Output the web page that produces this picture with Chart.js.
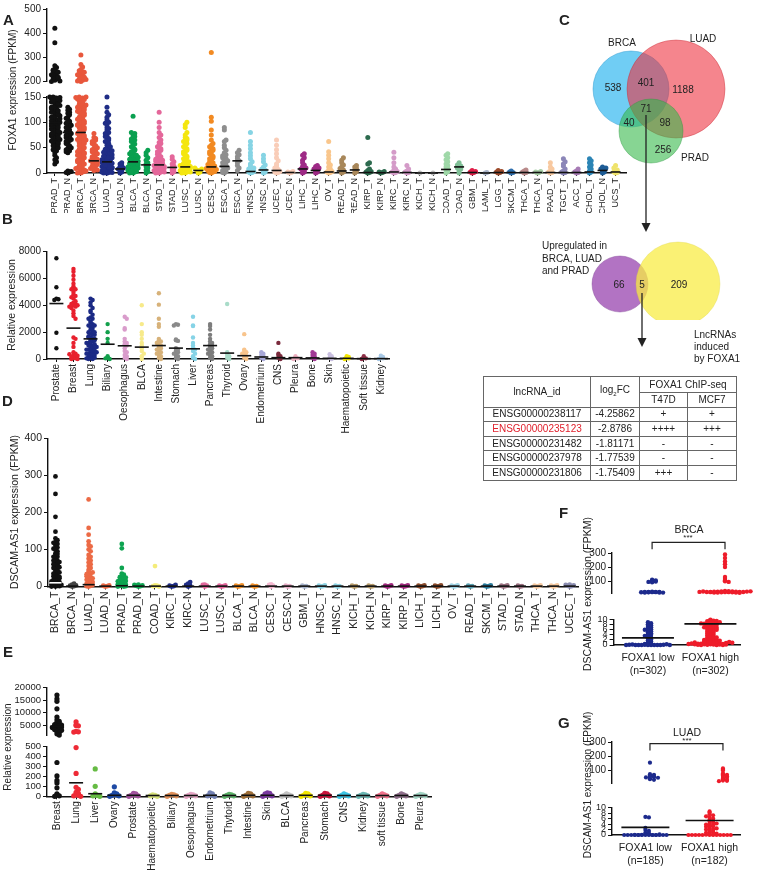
<!DOCTYPE html>
<html>
<head>
<meta charset="utf-8">
<script src="https://cdn.jsdelivr.net/npm/chart.js@4.4.0/dist/chart.umd.min.js"></script>
<style>
html,body{margin:0;padding:0;overflow:hidden}
body{width:761px;height:876px;position:relative;background:#fff;font-family:"Liberation Sans",Arial,sans-serif;color:#222}
.box{position:absolute}
.t{position:absolute;white-space:nowrap;font-size:10px;transform:translate(-50%,-50%)}
.tl{position:absolute;white-space:nowrap;font-size:10px;transform:translate(0,-50%)}
.yt{position:absolute;white-space:nowrap;font-size:10px;transform:translate(-50%,-50%) rotate(-90deg)}
.let{position:absolute;font-weight:bold;font-size:15px;transform:translate(0,-50%)}
#tbl{position:absolute;left:483px;top:376px;border-collapse:collapse;font-size:10px;color:#222}
#tbl td{border:1px solid #666;padding:0;text-align:center;line-height:12px;height:13.6px}
#tbl tr.h1 td{height:15px}
</style>
</head>
<body>
<script>
Chart.defaults.font.family = '"Liberation Sans", Arial, sans-serif';
Chart.defaults.color = '#222';

// ---- panel A : FOXA1 in TCGA (FPKM)
const aLabels = ['PRAD_T','PRAD_N','BRCA_T','BRCA_N','LUAD_T','LUAD_N','BLCA_T','BLCA_N','STAD_T','STAD_N','LUSC_T','LUSC_N','CESC_T','ESCA_T','ESCA_N','HNSC_T','HNSC_N','UCEC_T','UCEC_N','LIHC_T','LIHC_N','OV_T','READ_T','READ_N','KIRP_T','KIRP_N','KIRC_T','KIRC_N','KICH_T','KICH_N','COAD_T','COAD_N','GBM_T','LAML_T','LGG_T','SKCM_T','THCA_T','THCA_N','PAAD_T','TGCT_T','ACC_T','CHOL_T','CHOL_N','UCS_T'];
const aValues = [
  [18,22,26,30,35,40,44,48,52,55,58,62,65,68,72,75,78,82,85,88,92,95,98,102,105,108,112,115,118,122,125,128,132,135,138,142,145,148,150,60,70,80,90,100,110,120,130,140,95,105,115,125,135,145,75,85,46,50,54,57,60,63,66,70,73,77,80,83,87,90,93,97,100,103,107,110,113,117,120,123,127,130,133,137,140,143,147,149,150,148,146,144,205,210,215,220,225,230,235,240,245,250,258,265,212,218,228,238,248,200,202,360,420],
  [0,2,4,40,44,48,52,56,60,64,68,72,76,80,84,88,92,96,100,105,110,118,124,130,70,85,1,3,42,46,50,54,58,62,66,74,78,82,90,94,98,102,108,115,120,126],
  [0,2,5,8,12,16,20,24,28,32,36,40,44,48,52,56,60,64,68,72,76,80,84,88,92,96,100,104,108,112,116,120,124,128,132,136,140,144,148,150,30,45,60,75,90,105,120,135,10,20,40,55,70,85,100,115,130,145,1,3,6,10,14,18,22,26,30,34,38,42,46,50,54,58,62,66,70,74,78,82,86,90,94,98,102,106,110,114,118,122,126,130,134,138,142,146,150,149,147,0,4,9,25,35,65,95,125,200,205,210,215,220,225,230,235,240,245,202,208,218,228,238,250,260,270,310],
  [5,8,10,12,15,18,20,22,25,28,30,33,36,40,44,48,52,56,60,65,70,78,6,9,14,17,21,24,27,32,38,42,46,50,54,58,62,68],
  [0,1,2,3,5,7,8,10,12,14,15,17,18,20,22,24,25,27,28,30,32,35,38,40,42,45,48,50,55,60,65,70,75,80,85,90,95,100,105,110,115,120,130,150,5,10,15,20,25,30,35,0,1,2,4,6,9,11,13,16,19,21,23,26,29,31,33,36,39,41,44,47,52,58,62,68,72,78,88,98,0,2,4,6,8,12,16],
  [0,2,4,6,8,10,12,15,18,20],
  [0,2,4,6,8,10,12,15,18,20,22,25,28,30,33,36,40,45,50,55,60,65,70,72,75,78,80,112,5,10,15,20,25,35,1,3,5,7,9,11,14,17,19,23,27,31,35,38,42,47,52,57,62,67,0,4,8,12],
  [0,3,6,10,13,16,18,20,25,30,35,40,45],
  [0,2,4,6,8,10,12,14,16,18,20,22,25,28,30,35,40,45,50,55,60,70,80,90,100,120,5,10,15,25,1,3,5,7,9,11,13,15,17,19,23,27,32,37,42,48,52,58,65,75,0,2,4],
  [0,3,6,9,11,14,18,22,27,32],
  [0,2,4,6,8,10,12,14,16,18,20,25,30,35,40,45,50,55,60,65,70,75,80,90,95,100,5,10,15,1,3,5,7,9,11,13,15,17,19,22,28,33,38,42,48,52,58,62,68,0,2],
  [0,2,4,5,6,8,10],
  [0,2,4,6,8,10,12,15,18,20,25,30,35,40,45,50,55,58,65,75,85,102,110,320,1,3,5,7,9,11,14,17,22,28,33,38,42,48,52],
  [0,3,6,9,12,15,18,21,25,28,32,36,40,45,50,55,62,65,85,90,1,5,10,14,20,24,30,34],
  [5,10,15,20,24,28,32,36,40,45],
  [0,1,2,3,4,6,8,10,14,18,22,28,34,40,48,55,62,80],
  [0,2,4,6,8,12,16,22,28,35],
  [0,1,2,3,5,7,10,14,18,24,30,38,46,55,65],
  [0,1,2,3],
  [0,2,4,6,8,10,13,16,20,25,30,35,38],
  [0,2,4,6,8,10,13,15],
  [0,1,2,3,5,8,12,16,20,28,35,42,62],
  [0,2,4,6,9,12,16,20,25,30],
  [0,3,6,9,12,15],
  [0,1,2,3,5,8,18,20,70],
  [0,1,2,3],
  [0,1,2,3,5,8,12,20,30,41],
  [0,1,2,4,8,15],
  [0],
  [0],
  [0,3,6,9,12,15,18,22,26,30,35,38],
  [0,4,8,10,12,14,16,20],
  [0,1,2,3,5],
  [0,1],
  [0,1,2,3,5],
  [0,1,2,4],
  [0,1,2,4,6],
  [0,1,2,3],
  [0,1,2,4,8,12,20],
  [0,1,2,4,8,14,18,22,28],
  [0,1,2,4,8],
  [0,2,4,8,12,16,20,24,28],
  [0,2,4,6,8,10,12],
  [0,1,2,4,6,10,15]
];
const aMedians = [100,80,80,24,22,8,22,16,16,11,12,5,12,13,24,3,6,5,1,8,5,2,4,6,1,0.5,2,1,0,0,7,12,1,0,1,1,1,1,1,1,1,2,5,2];
const aColors = ['#111','#111','#e8573c','#e8573c','#1f2d86','#1f2d86','#0aa050','#0aa050','#e4679a','#e4679a','#f4e60f','#f4e60f','#f28a22','#8e8e8e','#8e8e8e','#86d4e4','#86d4e4','#f9cdb8','#f9cdb8','#9e2a86','#9e2a86','#f9c68c','#a8875a','#a8875a','#2d6b4f','#2d6b4f','#d49bc8','#d49bc8','#bbbbbb','#bbbbbb','#9fd8a8','#7fbf96','#e01e48','#aab4c8','#9c4a2a','#2f6fae','#b98a8a','#a7cfa6','#f8c9a0','#8b86b8','#a77bb5','#2b84b5','#1d5c96','#efe36c'];

// ---- panel B : FOXA1 in CCLE lines
const bLabels = ['Prostate','Breast','Lung','Biliary','Oesophagus','BLCA','Intestine','Stomach','Liver','Pancreas','Thyroid','Ovary','Endometrium','CNS','Pleura','Bone','Skin','Haematopoietic','Soft tissue','Kidney'];
const bValues = [
  [7500,5350,4500,4450,4400,1950,800],
  [6700,6500,6200,5900,5600,5400,5300,5200,5000,4800,4700,4500,4300,4200,4100,4000,3900,3800,3600,3400,3200,3000,1600,1500,1200,900,500,400,300,200,100,50,0,0,150,250,350,4000,4100,3900,5200,4600],
  [4500,4400,4200,4000,3800,3600,3500,3300,3100,3000,2800,2700,2600,2500,2400,2300,2200,2100,2000,1900,1800,1700,1600,1500,1400,1300,1200,1100,1000,900,800,700,600,500,400,300,200,100,0,1800,1600,1400,1200,1000,800,600,400,200,0,1500,1100,700,300,2000,2500,3000,900,500,100,50],
  [2600,2000,1500,1200,200,100,0,50],
  [3150,3000,2300,2200,1500,1300,1200,1100,1000,800,600,500,300,200,100,0],
  [4000,2600,2000,1800,1500,1200,1000,800,600,400,200,0],
  [4900,4050,3000,2600,2400,1500,1400,1300,1200,1100,1000,900,800,700,600,500,400,300,200,100,0],
  [2600,2550,2500,1450,1400,1350,800,700,600,500,400,300,200,100,0],
  [3150,2500,2450,1600,1200,1000,800,700,600,400,200,100,0],
  [2600,2450,2200,1800,1500,1300,1200,1100,1000,900,800,700,600,500,400,300,200,100,0],
  [4100,500,300,200,100,0],
  [1850,700,600,500,400,300,200,100,0],
  [500,400,300,200,100,0],
  [1200,400,300,200,100,0],
  [200,100,50,0],
  [500,400,300,200,100,0],
  [350,200,100,0],
  [200,150,100,50,0],
  [200,100,50,0],
  [250,150,100,50,0]
];
const bMedians = [4130,2300,1500,1100,985,885,1000,810,760,1000,440,246,150,100,100,80,50,50,30,30];
const bColors = ['#111','#e8202e','#1b2a85','#13a04c','#d99ccb','#f7ea8a','#d7b27a','#8a8a8a','#86d3e6','#7d7d7d','#a9dcc9','#f8c48c','#a8a8d8','#7a2a3c','#eeb0c0','#a23a96','#c9bfe0','#f3e600','#8e3048','#a9c9e6'];

// ---- panel C : overlaps
const vennSets = ['BRCA','LUAD','PRAD'];
const vennCounts = ['538','401','1188','71','40','98','256'];
const venn2Counts = ['66','5','209'];

// ---- table
const tblIds = ['ENSG00000238117','ENSG00000235123','ENSG00000231482','ENSG00000237978','ENSG00000231806'];
const tblFC = ['-4.25862','-2.8786','-1.81171','-1.77539','-1.75409'];
const tblT47D = ['+','++++','-','-','+++'];
const tblMCF7 = ['+','+++','-','-','-'];

// ---- panel D : DSCAM-AS1 in TCGA (FPKM)
const dLabels = ['BRCA_T','BRCA_N','LUAD_T','LUAD_N','PRAD_T','PRAD_N','COAD_T','KIRC_T','KIRC-N','LUSC_T','LUSC_N','BLCA_T','BLCA_N','CESC_T','CESC-N','GBM_T','HNSC_T','HNSC_N','KICH_T','KICH_N','KIRP_T','KIRP_N','LICH_T','LICH_N','OV_T','READ_T','SKCM_T','STAD_T','STAD_N','THCA_T','THCA_N','UCEC_T'];
const dValues = [
  [297,250,188,148,130,125,120,115,110,105,100,95,90,85,80,75,70,65,60,55,50,45,40,35,30,25,20,15,10,5,0,2,8,12,18,22,28,35,42,50,60,70,80,3,6,1,0,4,14,26,38,52,66,88,102,118],
  [0,1,2,3,5,8],
  [235,158,140,122,112,108,100,95,85,80,75,70,65,60,55,50,45,40,35,30,25,20,15,10,5,0,2,8,12,18,22,28,33,38,1,4],
  [0,1,2,3],
  [115,103,50,35,32,30,28,25,22,20,18,15,12,10,8,5,3,0,2,6,14,24,1,0],
  [0,1,2,3,4,5],
  [55,3,2,1,0],
  [0,1,2,4],
  [0,2,4,8,12],
  [0,2,4,5],
  [0,1,2,3],
  [0,1,2,3],
  [0,1,2],
  [0,2,4,6],
  [0,1,2],
  [0,1,2],
  [0,1,2,3],
  [0,1,2],
  [0,1,2],
  [0,1,2],
  [0,1,2,3],
  [0,1,2,3],
  [0,1,2,3],
  [0,1,2,3],
  [0,1,2,3],
  [0,1,2],
  [0,1,2,3],
  [0,1,2,3],
  [0,1,2],
  [0,1,2,3],
  [0,1,2,3],
  [0,1,2,3,4,5]
];
const dMedians = [10,1,5,1,2,1,1,1,1,1,1,1,1,1,1,1,1,1,1,1,1,1,1,1,1,1,1,1,1,1,1,1];
const dColors = ['#111','#444','#ec6a45','#ec6a45','#0ea451','#0ea451','#f4ec7a','#1f2d86','#1f2d86','#e2679c','#e2679c','#f0902a','#f0902a','#f4b8d0','#e8b0c8','#a8b4cc','#8fd3e3','#8fd3e3','#b59a6a','#b59a6a','#a0287e','#a0287e','#8a4a2a','#8a4a2a','#9fd4e6','#5aa0b0','#2a7a9a','#9a7080','#9a7080','#f6c9a0','#f6c9a0','#8a8cb0'];

// ---- panel E : DSCAM-AS1 in CCLE lines
const eLabels = ['Breast','Lung','Liver','Ovary','Prostate','Haematopoietic','Biliary','Oesophagus','Endometrium','Thytoid','Intestine','Skin','BLCA','Pancreas','Stomach','CNS','Kidney','soft tissue','Bone','Pleura'];
const eValues = [
  [17000,15500,14500,11500,8200,7000,6500,6000,5600,5200,5000,4800,4600,4400,4200,4000,3800,3500,3200,2900,2500,2000,1500,1000,340,205,160,135,85,25,15,5,0],
  [6300,5100,4800,4700,2500,2300,2200,490,230,90,70,40,30,20,10,5,0],
  [275,100,25,15,10,5,0],
  [95,35,25,20,15,10,5,0],
  [30,25,20,15,10,5,0],
  [15,10,5,0],
  [20,15,10,5,0],
  [20,15,10,5,0],
  [35,25,15,10,5,0],
  [20,15,10,5,0],
  [30,25,20,15,10,5,0],
  [35,30,25,20,15,10,5,0],
  [25,20,15,10,5,0],
  [30,25,20,15,10,5,0],
  [30,25,20,15,10,5,0],
  [25,20,15,10,5,0],
  [20,15,10,5,0],
  [25,20,15,10,5,0],
  [25,20,15,10,5,0],
  [20,15,10,5,0]
];
const eMedians = [4500,136,26,10,10,8,8,8,10,8,10,10,8,10,10,8,8,8,8,8];
const eColors = ['#111','#ee2a36','#66bb44','#1e4aa4','#a2529e','#d6e07a','#e0905a','#e6a6c6','#7482b4','#5db36a','#a0703a','#7a3aa0','#c4c4c4','#f2e600','#c8143c','#3cc4e4','#6ab8b4','#f0708a','#90708c','#a4d6c6'];

// ---- panels F and G : DSCAM-AS1 by FOXA1 level
const fLabels = [['FOXA1 low','(n=302)'],['FOXA1 high','(n=302)']];
const fLow = [110,105,100,98,95,92,25,24,23,22,22,21,20,20,19,24,23,21,9,8.6,8.2,7.8,7.5,7,6.6,6.2,6,5.7,5.4,5,4.6,4.3,4,3.6,3.3,3,2.6,2.2,1.8,1.4,1,0.6,0.3,0.2,0.1,0,0,0,0,0,0,0.1,0.2,0.4,0.3,0.1,0,0,0,0];
const fHigh = [290,265,240,220,200,130,115,105,100,95,30,29,28,27,26,25,25,24,24,23,23,22,22,21,21,20,20,19,18,26,27,28,22,24,10,9.8,9.6,9.4,9.2,9,8.8,8.6,8.4,8.2,8,7.8,7.5,7.2,7,6.8,6.5,6.2,6,5.8,5.5,5.2,5,4.8,4.5,4.2,4,3.8,3.5,3.2,3,2.8,2.5,2.2,2,1.8,1.6,1.4,1.2,1,0.9,0.8,0.7,0.6,0.5,0.4,0.3,0.2,0.1,0,0.5,0.8,1,1.2,1.5,0.3,0.6,0.9,0.2,0.4,1.1,0.7,9.5,9,8.5,8,3,2,6,7,0,0,0.1,0.2,0.3,1.3,1.7];
const fMeans = [2.8,8.3];
const gLabels = [['FOXA1 low','(n=185)'],['FOXA1 high','(n=182)']];
const gLow = [155,75,70,65,60,58,55,52,50,45,40,35,6.6,6.4,2.6,1.8,1.5,0.8,0.6,0.3,0.2,0.1,0,0,0,0,0,0,0,0,0,0,0,0,0,0,0,0,0.1,0.2];
const gHigh = [115,108,100,80,75,70,65,60,55,50,45,40,35,30,28,26,8.6,8.2,7.6,7.2,6.8,6.4,6,5.6,5.2,4.8,4.4,4,3.6,3.4,3.2,3,2.6,2.2,2,1.8,1.5,1.2,1,0.8,0.5,0.3,0.2,0.1,0,0,0,0,0,0,0,0,0,0,0,0,3.8,2.4,4.2];
const gMeans = [2.8,5.3];

// lays same-level dots side by side (beeswarm-like)
function swarm(vals, i, sw) {
  const used = {};
  return vals.map(v => {
    const k = Math.round(v / sw.bin);
    const n = used[k] || 0;
    used[k] = n + 1;
    const j = n % sw.slots;
    const off = j === 0 ? 0 : (j % 2 ? 1 : -1) * Math.ceil(j / 2) * sw.step;
    return { x: i + off, y: v };
  });
}

function dotSets(values, colors, lo, hi, sw, r) {
  return values.map((vals, i) => ({
    data: swarm(vals.filter(v => v >= lo && v <= hi), i, sw),
    pointBackgroundColor: colors[i], pointBorderWidth: 0, pointRadius: r,
    clip: false, order: 1
  }));
}

function medianSet(meds, lo, hi, r, special) {
  const pts = [];
  meds.forEach((m, i) => { if (m >= lo && m <= hi) pts.push({ x: i, y: m, c: (special && special[i]) || '#111' }); });
  return {
    data: pts, pointStyle: 'line', pointRadius: r, pointBorderWidth: 1.6,
    pointBorderColor: c => (c.raw && c.raw.c) || '#111', clip: false, order: 0
  };
}

function dotChart(o) {
  const padT = o.padT || 8, padR = 8, padB = o.xH ? 0 : 6;
  const div = document.createElement('div');
  div.className = 'box';
  div.style.left = (o.left - o.yW) + 'px';
  div.style.top = (o.top - padT) + 'px';
  div.style.width = (o.yW + o.w + padR) + 'px';
  div.style.height = (padT + o.h + (o.xH || 0) + padB) + 'px';
  const cv = document.createElement('canvas');
  div.appendChild(cv);
  document.body.appendChild(div);
  return new Chart(cv, {
    type: 'scatter',
    data: { datasets: o.sets },
    plugins: o.plugins || [],
    options: {
      responsive: true, maintainAspectRatio: false, animation: false, events: [],
      layout: { padding: { top: padT, right: padR, bottom: padB, left: 0 } },
      plugins: { legend: { display: false }, tooltip: { enabled: false } },
      scales: {
        x: {
          type: 'linear', min: o.xmin, max: o.xmax, display: !!o.xH,
          afterFit: s => { s.height = o.xH; },
          afterBuildTicks: s => { s.ticks = o.labels.map((_, i) => ({ value: i })); },
          ticks: { autoSkip: false, maxRotation: o.rot, minRotation: o.rot, padding: o.rot ? 2 : 7,
            color: '#222', font: { size: o.xFont }, callback: v => o.labels[v] },
          grid: { drawOnChartArea: false, drawTicks: o.rot === 90, tickLength: 3, color: '#111', lineWidth: 1 },
          border: { display: true, color: '#111', width: 1.6 }
        },
        y: {
          type: 'linear', min: o.ymin, max: o.ymax,
          afterFit: s => { s.width = o.yW; },
          afterBuildTicks: s => { s.ticks = o.yticks.map(v => ({ value: v })); },
          ticks: { autoSkip: false, padding: 2, color: '#222', font: { size: o.yFont || 10 }, callback: v => String(v) },
          grid: { drawOnChartArea: false, tickLength: 4, color: '#111', lineWidth: 1 },
          border: { display: true, color: '#111', width: 1.4 }
        }
      }
    }
  });
}

// bracket over the two groups of F / G
function bracket(dy) {
  return {
    id: 'bracket',
    afterDraw(chart) {
      const x = chart.scales.x, ctx = chart.ctx, y = chart.chartArea.top + dy;
      const x0 = x.getPixelForValue(0), x1 = x.getPixelForValue(1);
      ctx.save();
      ctx.strokeStyle = '#222'; ctx.lineWidth = 1.2;
      ctx.beginPath();
      ctx.moveTo(x0, y + 7); ctx.lineTo(x0, y); ctx.lineTo(x1, y); ctx.lineTo(x1, y + 7);
      ctx.stroke();
      ctx.restore();
    }
  };
}

function txt(html, x, y, cls, extra) {
  const d = document.createElement('div');
  d.className = cls || 't';
  d.innerHTML = html;
  d.style.left = x + 'px';
  d.style.top = y + 'px';
  if (extra) Object.assign(d.style, extra);
  document.body.appendChild(d);
  return d;
}

// ===== A
const swA1 = { bin: 16, step: 0.13, slots: 7 };
const swA2 = { bin: 7, step: 0.13, slots: 7 };
dotChart({ left: 47, top: 8.5, w: 579, h: 74.5, yW: 30, xH: 0, xmin: -0.6, xmax: 43.8, labels: aLabels,
  ymin: 200, ymax: 500, yticks: [200, 300, 400, 500],
  sets: [medianSet(aMedians, 200, 500, 5)].concat(dotSets(aValues, aColors, 200, 500, swA1, 2.5)) });
dotChart({ left: 47, top: 96.7, w: 579, h: 76, yW: 30, xH: 40, rot: 90, xFont: 9, xmin: -0.6, xmax: 43.8, labels: aLabels,
  ymin: 0, ymax: 150, yticks: [0, 50, 100, 150],
  sets: [medianSet(aMedians, 0, 150, 5)].concat(dotSets(aValues, aColors, 0, 150, swA2, 2.5)) });

// ===== B
dotChart({ left: 47, top: 251, w: 343, h: 108, yW: 30, xH: 80, rot: 90, xFont: 10, xmin: -0.55, xmax: 19.5, labels: bLabels,
  ymin: 0, ymax: 8000, yticks: [0, 2000, 4000, 6000, 8000],
  sets: [medianSet(bMedians, 0, 8000, 7)].concat(dotSets(bValues, bColors, 0, 8000, { bin: 260, step: 0.12, slots: 7 }, 2.2)) });

// ===== D
dotChart({ left: 48, top: 437.5, w: 530, h: 148.5, yW: 30, xH: 50, rot: 90, xFont: 10.5, xmin: -0.45, xmax: 31.5, labels: dLabels,
  ymin: 0, ymax: 400, yticks: [0, 100, 200, 300, 400], yFont: 10.5,
  sets: [medianSet(dMedians, 0, 400, 6, { 0: '#fff' })].concat(dotSets(dValues, dColors, 0, 400, { bin: 9, step: 0.12, slots: 7 }, 2.4)) });

// ===== E
dotChart({ left: 47, top: 687, w: 385, h: 51.3, yW: 42, xH: 0, xmin: -0.52, xmax: 19.57, labels: eLabels,
  ymin: 760, ymax: 20000, yticks: [5000, 10000, 15000, 20000], yFont: 9.5,
  sets: [medianSet(eMedians, 760, 20000, 7)].concat(dotSets(eValues, eColors, 760, 20000, { bin: 1100, step: 0.12, slots: 5 }, 2.6)) });
dotChart({ left: 47, top: 745.7, w: 385, h: 50.3, yW: 42, xH: 78, rot: 90, xFont: 10, xmin: -0.52, xmax: 19.57, labels: eLabels,
  ymin: 0, ymax: 500, yticks: [0, 100, 200, 300, 400, 500], yFont: 9.5,
  sets: [medianSet(eMedians, 0, 500, 7)].concat(dotSets(eValues, eColors, 0, 500, { bin: 45, step: 0.12, slots: 7 }, 2.6)) });

// ===== F
const fgColors = ['#1c2a8c', '#ee1c2a'];
dotChart({ left: 612, top: 552.7, w: 148, h: 42.3, yW: 26, xH: 0, padT: 16, xmin: -0.55, xmax: 1.48, labels: fLabels,
  ymin: 14, ymax: 300, yticks: [100, 200, 300], plugins: [bracket(-10.7)],
  sets: [medianSet(fMeans, 14, 300, 26)].concat(dotSets([fLow, fHigh], fgColors, 14, 300, { bin: 9, step: 0.05, slots: 15 }, 2.2)) });
dotChart({ left: 612, top: 600, w: 148, h: 45, yW: 26, xH: 34, rot: 0, xFont: 10.5, xmin: -0.55, xmax: 1.48, labels: fLabels,
  ymin: 0, ymax: 10, yticks: [0, 2, 4, 6, 8, 10], yFont: 9,
  sets: [medianSet(fMeans, 0, 10, 26)].concat(dotSets([fLow, fHigh], fgColors, 0, 10, { bin: 0.8, step: 0.05, slots: 15 }, 2.2)) });

// ===== G
dotChart({ left: 612, top: 741.7, w: 146, h: 43.3, yW: 26, xH: 0, padT: 16, xmin: -0.52, xmax: 1.48, labels: gLabels,
  ymin: 11, ymax: 300, yticks: [100, 200, 300], plugins: [bracket(1.6)],
  sets: [medianSet(gMeans, 11, 300, 24)].concat(dotSets([gLow, gHigh], fgColors, 11, 300, { bin: 9, step: 0.055, slots: 13 }, 2.1)) });
dotChart({ left: 612, top: 790, w: 146, h: 45, yW: 26, xH: 34, rot: 0, xFont: 10.5, xmin: -0.52, xmax: 1.48, labels: gLabels,
  ymin: 0, ymax: 10, yticks: [0, 2, 4, 6, 8, 10], yFont: 9,
  sets: [medianSet(gMeans, 0, 10, 24)].concat(dotSets([gLow, gHigh], fgColors, 0, 10, { bin: 0.8, step: 0.055, slots: 13 }, 2.1)) });

// ===== C : Venn diagrams as a bubble chart (layout only, counts are text)
const vennLayout = [
  { x: 71, y: 69, r: 38 }, { x: 116, y: 69, r: 49 }, { x: 91, y: 111, r: 32 },
  { x: 60, y: 264, r: 28 }, { x: 118, y: 264, r: 42 }
];
(function () {
  const div = document.createElement('div');
  div.className = 'box';
  Object.assign(div.style, { left: '560px', top: '20px', width: '200px', height: '300px' });
  const cv = document.createElement('canvas');
  div.appendChild(cv);
  document.body.appendChild(div);
  new Chart(cv, {
    type: 'bubble',
    data: { datasets: [{
      data: vennLayout,
      backgroundColor: ['rgba(25,175,238,0.62)', 'rgba(238,45,58,0.58)', 'rgba(55,185,75,0.6)', 'rgba(165,90,185,0.85)', 'rgba(248,236,70,0.75)'],
      borderColor: ['rgba(20,140,200,0.5)', 'rgba(200,40,50,0.5)', 'rgba(40,150,60,0.5)', 'rgba(130,70,150,0.5)', 'rgba(220,210,60,0.4)'],
      borderWidth: 0.8, clip: false
    }] },
    options: {
      responsive: true, maintainAspectRatio: false, animation: false, events: [],
      layout: { padding: 0, autoPadding: false },
      plugins: { legend: { display: false }, tooltip: { enabled: false } },
      scales: { x: { type: 'linear', min: 0, max: 200, display: false }, y: { type: 'linear', min: 0, max: 300, reverse: true, display: false } }
    }
  });
})();

// arrows
document.body.insertAdjacentHTML('beforeend',
  '<svg style="position:absolute;left:0;top:0" width="761" height="876">' +
  '<line x1="646" y1="115" x2="646" y2="225" stroke="#222" stroke-width="1.3"/>' +
  '<polygon points="641.5,223 650.5,223 646,232" fill="#222"/>' +
  '<line x1="642" y1="293" x2="642" y2="340" stroke="#222" stroke-width="1.3"/>' +
  '<polygon points="637.5,338 646.5,338 642,347" fill="#222"/>' +
  '</svg>');

// ----- texts
txt('A', 3, 19, 'let'); txt('B', 2, 218, 'let'); txt('C', 559, 19, 'let');
txt('D', 2, 400, 'let'); txt('E', 3, 651, 'let'); txt('F', 559, 512, 'let'); txt('G', 558, 722, 'let');

txt('FOXA1 expression (FPKM)', 12, 90, 'yt', { fontSize: '10px' });
txt('Relative expression', 11, 305, 'yt', { fontSize: '10.5px' });
txt('DSCAM-AS1 expression (FPKM)', 14, 512, 'yt', { fontSize: '10.5px' });
txt('Relative expression', 7, 747, 'yt', { fontSize: '10px' });
txt('DSCAM-AS1 expression (FPKM)', 587, 594, 'yt', { fontSize: '10.5px' });
txt('DSCAM-AS1 expression (FPKM)', 587, 785, 'yt', { fontSize: '10px' });

txt('BRCA', 689, 529, 't', { fontSize: '10.5px' }); txt('***', 688, 537, 't', { fontSize: '8px' });
txt('LUAD', 687, 732, 't', { fontSize: '10.5px' }); txt('***', 687, 740, 't', { fontSize: '8px' });

// Venn labels
txt(vennSets[0], 622, 42); txt(vennSets[1], 703, 38); txt(vennSets[2], 695, 157);
const vennPos = [[613, 87], [646, 82], [683, 89], [646, 108], [629, 122], [665, 122], [663, 149]];
vennCounts.forEach((c, i) => txt(c, vennPos[i][0], vennPos[i][1]));
const venn2Pos = [[619, 284], [642, 284], [679, 284]];
venn2Counts.forEach((c, i) => txt(c, venn2Pos[i][0], venn2Pos[i][1]));
txt('Upregulated in', 542, 245, 'tl'); txt('BRCA, LUAD', 542, 257.5, 'tl'); txt('and PRAD', 542, 270, 'tl');
txt('LncRNAs', 694, 334, 'tl'); txt('induced', 694, 346, 'tl'); txt('by FOXA1', 694, 358, 'tl');

// table
(function () {
  let h = '<table id="tbl"><colgroup><col style="width:107px"><col style="width:49px"><col style="width:48px"><col style="width:49px"></colgroup>' +
    '<tr class="h1"><td rowspan="2">lncRNA_id</td><td rowspan="2">log<sub style="font-size:6px">2</sub>FC</td><td colspan="2">FOXA1 ChIP-seq</td></tr>' +
    '<tr><td>T47D</td><td>MCF7</td></tr>';
  tblIds.forEach((id, i) => {
    h += '<tr><td' + (i === 1 ? ' style="color:#e0202c"' : '') + '>' + id + '</td><td>' + tblFC[i] + '</td><td>' + tblT47D[i] + '</td><td>' + tblMCF7[i] + '</td></tr>';
  });
  document.body.insertAdjacentHTML('beforeend', h + '</table>');
})();
</script>
</body>
</html>
